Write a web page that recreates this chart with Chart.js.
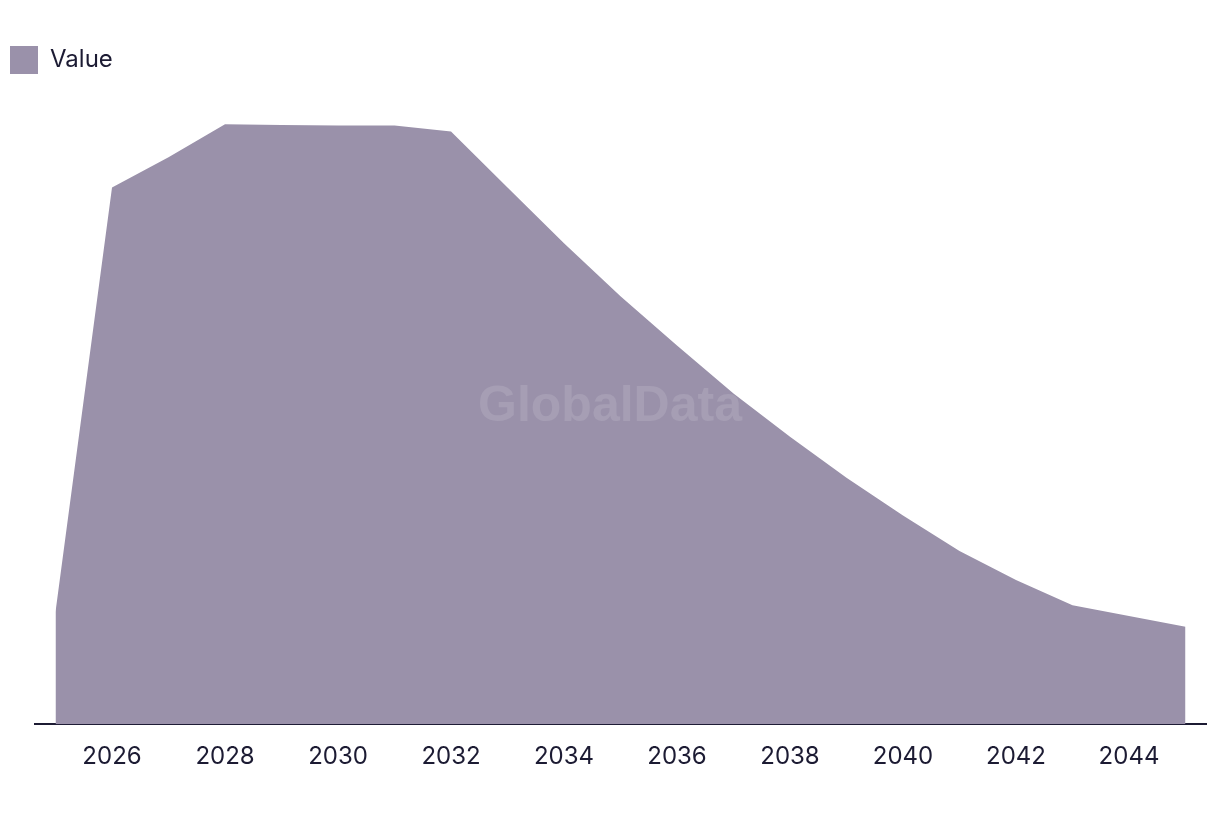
<!DOCTYPE html>
<html>
<head>
<meta charset="utf-8">
<script src="https://cdn.jsdelivr.net/npm/chart.js@4"></script>
<style>
html,body{margin:0;padding:0;background:#fff;}
#wrap{width:1220px;height:814px;}
</style>
</head>
<body>
<div id="wrap"><canvas id="c" width="1220" height="814"></canvas></div>
<script>
const years = [2025,2026,2027,2028,2029,2030,2031,2032,2033,2034,2035,2036,2037,2038,2039,2040,2041,2042,2043,2044,2045];
const values = [18.7,89.3,94.3,99.8,99.7,99.6,99.6,98.6,89.3,80.0,71.2,63.0,55.0,47.8,41.0,34.7,28.8,24.0,19.8,18.0,16.2];
const tickYears = [2026,2028,2030,2032,2034,2036,2038,2040,2042,2044];
const seriesName = 'Value';

const textColor = '#1c1b33';
const fillColor = '#9a91aa';

const watermark = {
  id: 'watermark',
  afterDatasetsDraw(chart) {
    const ctx = chart.ctx;
    ctx.save();
    ctx.font = 'bold 50px "Liberation Sans", Arial, sans-serif';
    ctx.fillStyle = 'rgba(255,255,255,0.12)';
    ctx.textAlign = 'center';
    ctx.textBaseline = 'middle';
    ctx.fillText('GlobalData', 610, 407);
    ctx.restore();
  }
};

new Chart(document.getElementById('c'), {
  type: 'line',
  data: {
    datasets: [{
      label: seriesName,
      data: years.map((y, i) => ({x: y, y: values[i]})),
      backgroundColor: fillColor,
      borderColor: fillColor,
      borderWidth: 0,
      pointRadius: 0,
      fill: 'origin',
      tension: 0
    }]
  },
  options: {
    responsive: false,
    animation: false,
    layout: { padding: { top: 36, right: 14, bottom: 33, left: 0 } },
    plugins: {
      legend: {
        display: true,
        position: 'top',
        align: 'start',
        labels: {
          boxWidth: 28,
          boxHeight: 28,
          padding: 10,
          color: textColor,
          font: { family: 'Inter, "Noto Sans", sans-serif', size: 24 }
        }
      },
      tooltip: { enabled: false }
    },
    scales: {
      x: {
        type: 'linear',
        min: 2024.637,
        max: 2045.363,
        afterBuildTicks(scale) { scale.ticks = tickYears.map(v => ({value: v})); },
        grid: { display: false },
        border: { display: true, color: textColor, width: 2 },
        ticks: {
          color: textColor,
          padding: 10,
          maxRotation: 0,
          autoSkip: false,
          font: { family: 'Inter, "Noto Sans", sans-serif', size: 24 },
          callback: v => String(v)
        }
      },
      y: {
        display: true,
        min: 0,
        max: 106.5,
        afterFit(scale) { scale.width = 35; },
        grid: { display: false },
        border: { display: false },
        ticks: { display: false }
      }
    }
  },
  plugins: [watermark]
});
</script>
</body>
</html>
